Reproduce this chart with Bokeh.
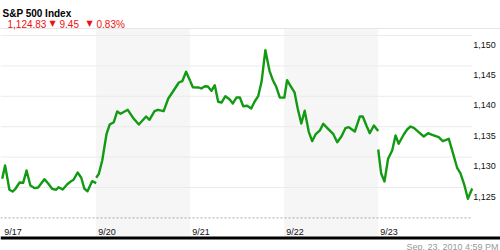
from bokeh.plotting import figure
from bokeh.models import Range1d
from bokeh.core.properties import value
from bokeh.embed import file_html
from bokeh.resources import INLINE

# ---------------- data ----------------
days = ["9/17", "9/20", "9/21", "9/22", "9/23"]
shaded_days = [1, 3]  # 9/20 and 9/22

# minutes after the 9:30 open, and index level
d1_min = [0, 12, 30, 43, 55, 72, 87, 101, 117, 135, 149, 175, 190, 207, 224, 234, 251, 269, 286, 296, 313, 328, 341, 354, 373, 390]
d1_val = [1126.43, 1128.62, 1124.62, 1124.34, 1124.79, 1125.82, 1125.77, 1127.80, 1125.33, 1124.89, 1125.00, 1126.37, 1125.71,
          1124.79, 1124.62, 1125.05, 1124.67, 1125.49, 1126.04, 1126.27, 1127.47, 1126.60, 1124.79, 1124.39, 1126.04, 1125.71]

d2_min = [0, 11, 25, 43, 56, 73, 87, 101, 131, 156, 177, 207, 221, 242, 256, 280, 299, 322, 343, 357, 373, 390]
d2_val = [1126.60, 1127.25, 1129.44, 1133.83, 1135.36, 1135.74, 1137.50, 1137.12, 1137.78, 1136.30, 1135.36, 1136.68,
          1136.14, 1137.55, 1137.78, 1137.55, 1139.64, 1141.00, 1142.27, 1142.48, 1144.03, 1142.50]

d3_min = [0, 11, 36, 46, 61, 73, 88, 102, 116, 130, 146, 163, 177, 192, 206, 220, 236, 253, 267, 282, 296, 312, 329, 343, 357, 372, 390]
d3_val = [1142.50, 1141.50, 1141.45, 1141.28, 1141.66, 1141.61, 1140.90, 1141.83, 1139.10, 1138.98, 1140.02, 1139.52, 1138.82,
          1139.80, 1139.80, 1138.37, 1138.44, 1137.99, 1139.10, 1140.02, 1142.38, 1147.58, 1144.19, 1142.65, 1141.56, 1139.80, 1139.78]

d4_min = [0, 12, 26, 43, 56, 71, 85, 102, 116, 130, 148, 162, 178, 203, 220, 238, 254, 268, 293, 314, 326, 341, 355, 372, 390]
d4_val = [1139.64, 1142.65, 1141.73, 1140.63, 1137.99, 1135.53, 1137.62, 1134.16, 1132.62, 1133.72, 1134.38, 1135.48, 1134.82,
          1133.83, 1132.45, 1133.44, 1134.75, 1134.92, 1134.21, 1136.68, 1136.68, 1135.20, 1133.93, 1135.20, 1134.28]

d5_min = [0, 12, 26, 41, 58, 72, 85, 106, 120, 134, 148, 168, 189, 207, 224, 251, 268, 293, 311, 328, 341, 358, 372, 390]
d5_val = [1131.25, 1127.35, 1125.99, 1129.72, 1131.09, 1133.55, 1132.19, 1133.72, 1134.54, 1135.03, 1134.82, 1134.10, 1133.39,
          1133.93, 1133.67, 1133.27, 1132.62, 1133.01, 1130.54, 1128.17, 1127.35, 1125.33, 1123.14, 1124.83]

day_minutes = [d1_min, d2_min, d3_min, d4_min, d5_min]
day_values = [d1_val, d2_val, d3_val, d4_val, d5_val]

y_ticks = [1125, 1130, 1135, 1140, 1145, 1150]
y_tick_labels = ["1,125", "1,130", "1,135", "1,140", "1,145", "1,150"]
baseline_level = 1120

title_text = "S&P 500 Index"
last_text = "1,124.83"
change_text = "9.45"
pct_text = "0.83%"
stamp_text = "Sep. 23, 2010 4:59 PM"

SESSION = 390.0

# ---------------- layout ----------------
W, H = 500, 250
X0_PX, DAY_PX = 1.7, 94.0          # pixel of first open, pixels per day
Y_REF, Y_REF_PX, PX_PER_PT = 1150.0, 35.0, 6.08

x_start = (0 - X0_PX) / DAY_PX
x_end = (W - X0_PX) / DAY_PX
y_end = Y_REF + Y_REF_PX / PX_PER_PT
y_start = Y_REF - (H - Y_REF_PX) / PX_PER_PT


def px2x(px):
    return x_start + px / W * (x_end - x_start)


def px2y(py):
    return y_end - py / H * (y_end - y_start)


p = figure(width=W, height=H, output_backend="svg", toolbar_location=None,
           x_axis_type=None, y_axis_type=None, min_border=0,
           x_range=Range1d(x_start, x_end), y_range=Range1d(y_start, y_end),
           outline_line_color=None, background_fill_color="white",
           border_fill_color="white")
p.xgrid.visible = False
p.ygrid.visible = False

FONT = value("Liberation Sans")
n_days = len(days)

# shaded alternate days
band_top = px2y(28.5)
band_bottom = px2y(236)
p.quad(left=shaded_days, right=[d + 1 for d in shaded_days],
       bottom=band_bottom, top=band_top, fill_color="#f6f6f6", line_color=None)

# top separator
p.segment(x0=[px2x(0)], x1=[px2x(W)], y0=[px2y(28)], y1=[px2y(28)],
          line_color="#e6e6e6", line_width=1)

# gridlines
p.segment(x0=[px2x(0)] * len(y_ticks), x1=[n_days] * len(y_ticks),
          y0=y_ticks, y1=y_ticks, line_color="#ebebeb", line_width=1)

# dashed baseline
p.segment(x0=[px2x(0)], x1=[n_days - 0.01], y0=[baseline_level], y1=[baseline_level],
          line_color="#aaaaaa", line_width=1, line_dash="2 2")

# bottom black rule
p.segment(x0=[px2x(0)], x1=[px2x(W)], y0=[px2y(237.5)], y1=[px2y(237.5)],
          line_color="black", line_width=3)

# price lines, one per session
for d in range(n_days):
    xs = [d + m / SESSION for m in day_minutes[d]]
    p.line(xs, day_values[d], line_color="#129a12", line_width=2.4, line_join="round")

# y tick labels (right, a little below each gridline)
p.text(x=[n_days] * len(y_ticks), y=y_ticks, text=y_tick_labels, x_offset=1, y_offset=9,
       text_font=FONT, text_font_size="9px", text_color="#111111",
       text_align="left", text_baseline="alphabetic")

# x day labels
p.text(x=list(range(n_days)), y=[baseline_level] * n_days, text=days, x_offset=2, y_offset=14,
       text_font=FONT, text_font_size="9px", text_color="#111111",
       text_align="left", text_baseline="alphabetic")

# header
p.text(x=[px2x(2)], y=[px2y(13)], text=[title_text], text_font=FONT, text_font_size="10px",
       text_font_style="bold", text_color="black", text_align="left", text_baseline="alphabetic")
RED = "#ee1111"
p.text(x=[px2x(7)], y=[px2y(23.5)], text=[last_text], text_font=FONT, text_font_size="10px",
       text_color=RED, text_align="left", text_baseline="alphabetic")
p.text(x=[px2x(49), px2x(86)], y=[px2y(23)] * 2, text=["\u25bc", "\u25bc"], text_font=value("DejaVu Sans"),
       text_font_size="8px", text_color=RED, text_align="left", text_baseline="alphabetic")
p.text(x=[px2x(59), px2x(96)], y=[px2y(23.5)] * 2, text=[change_text, pct_text], text_font=FONT,
       text_font_size="10px", text_color=RED, text_align="left", text_baseline="alphabetic")

# timestamp
p.text(x=[px2x(498)], y=[px2y(246)], text=[stamp_text], text_font=FONT, text_font_size="9px",
       text_color="#999999", text_align="right", text_baseline="alphabetic")

open("out.html", "w").write(file_html(p, INLINE))
